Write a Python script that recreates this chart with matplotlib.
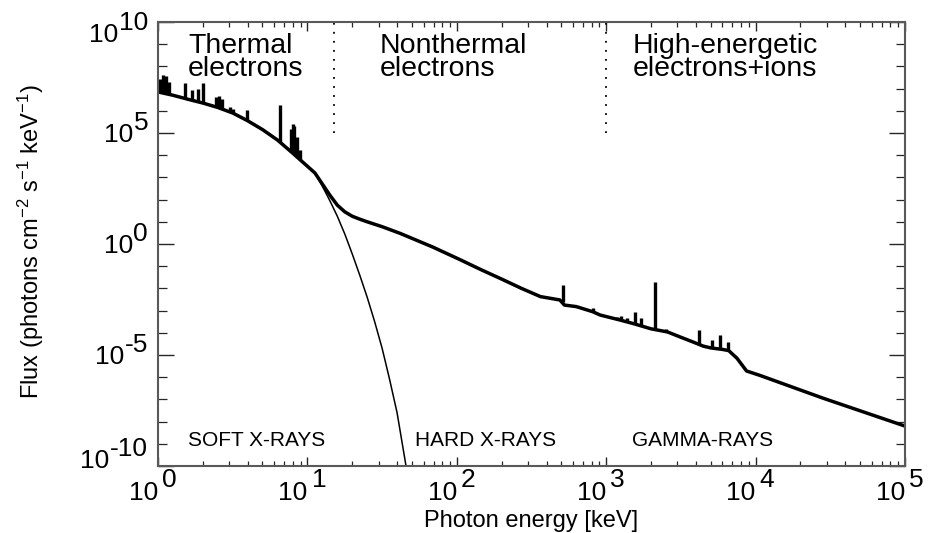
import numpy as np
import matplotlib
matplotlib.use('Agg')
import matplotlib.pyplot as plt
import matplotlib.transforms as mtrans
from matplotlib.ticker import LogLocator, FixedLocator, NullFormatter

plt.rcParams['font.family'] = ['Liberation Sans', 'DejaVu Sans']
plt.rcParams['mathtext.default'] = 'regular'

# total spectrum (log10 keV, log10 flux)
tot_le = [0.0, 0.1, 0.2, 0.3, 0.4, 0.5, 0.6, 0.7, 0.8, 0.9, 0.95, 1.0, 1.05,
          1.1, 1.15, 1.2, 1.25, 1.3, 1.35, 1.4, 1.5, 1.62, 1.84, 2.02, 2.16,
          2.3, 2.43, 2.56, 2.69, 2.72, 2.8, 2.91, 2.96, 3.09, 3.19, 3.3, 3.41,
          3.5, 3.58, 3.65, 3.7, 3.78, 3.82, 3.875, 3.94, 4.03, 4.45, 5.0]
tot_lf = [6.85, 6.7, 6.52, 6.35, 6.15, 5.9, 5.55, 5.15, 4.68, 4.1, 3.8, 3.5, 3.2,
          2.7, 2.2, 1.75, 1.45, 1.25, 1.12, 1.0, 0.78, 0.48, -0.14, -0.7, -1.15,
          -1.58, -1.99, -2.37, -2.52, -2.75, -2.82, -3.05, -3.2, -3.42, -3.6, -3.82, -3.96,
          -4.2, -4.41, -4.6, -4.68, -4.75, -4.8, -5.14, -5.72, -5.92, -6.94, -8.2]

# thermal component only (thin line)
th_le = [1.0, 1.05, 1.1, 1.15, 1.2, 1.25, 1.3, 1.35, 1.4, 1.45, 1.5, 1.55, 1.6, 1.65, 1.68]
th_lf = [3.5, 3.2, 2.6, 1.95, 1.25, 0.45, -0.45, -1.4, -2.4, -3.5, -4.7, -6.1, -7.6, -9.6, -10.8]

# emission lines: position, base, peak (log10)
line_le = [0.01, 0.03, 0.05, 0.07, 0.18, 0.23, 0.27, 0.30, 0.39, 0.41, 0.43, 0.48, 0.50,
           0.595, 0.815, 0.89, 0.90, 0.91, 0.93, 0.95,
           2.708, 2.91, 3.07, 3.10, 3.14, 3.19, 3.23, 3.33, 3.40, 3.62, 3.71, 3.76, 3.815]
line_base = [6.84, 6.8, 6.77, 6.74, 6.56, 6.47, 6.4, 6.35, 6.17, 6.12, 6.07, 5.95, 5.9,
             5.57, 4.6, 4.16, 4.1, 4.04, 3.92, 3.8,
             -2.6, -3.05, -3.38, -3.44, -3.52, -3.6, -3.67, -3.85, -3.95, -4.5, -4.66, -4.7, -4.76]
line_top = [7.45, 7.6, 7.55, 7.3, 7.25, 6.95, 7.0, 7.25, 6.6, 6.65, 6.55, 6.17, 6.07,
            6.03, 6.26, 5.2, 5.4, 5.3, 4.8, 4.25,
            -1.85, -2.88, -3.3, -3.25, -3.35, -3.06, -3.33, -1.71, -3.85, -3.87, -4.32, -4.1, -4.41]

# region boundaries (keV)
bounds = [15, 1000]
bound_lo = 1e5

xdecades = [0, 1, 2, 3, 4, 5]
ydecades = [-10, -5, 0, 5, 10]

fig = plt.figure(figsize=(9.3, 5.33), dpi=100)
ax = fig.add_axes([0.170, 0.1257, 0.803, 0.833])

ax.plot(10.0 ** np.array(tot_le), 10.0 ** np.array(tot_lf), color='black', lw=2.5,
        solid_joinstyle='round')
ax.plot(10.0 ** np.array(th_le), 10.0 ** np.array(th_lf), color='black', lw=1.1)
ax.vlines(10.0 ** np.array(line_le), 10.0 ** np.array(line_base), 10.0 ** np.array(line_top),
          color='black', lw=2.4)
ax.vlines(bounds, bound_lo, 1e10, color='black', lw=1.3, linestyles=(0, (1, 4)))

ax.set_xscale('log')
ax.set_yscale('log')
ax.set_xlim(1, 1e5)
ax.set_ylim(1e-10, 1e10)

ax.xaxis.set_major_locator(FixedLocator([10.0 ** k for k in xdecades]))
ax.xaxis.set_minor_locator(LogLocator(base=10, subs=np.arange(2, 10), numticks=30))
ax.yaxis.set_major_locator(FixedLocator([10.0 ** k for k in ydecades]))
ax.yaxis.set_minor_locator(LogLocator(base=10, subs=(1.0,), numticks=40))
ax.xaxis.set_minor_formatter(NullFormatter())
ax.yaxis.set_minor_formatter(NullFormatter())
ax.tick_params(which='both', direction='in', top=True, right=True, color='0.15',
               labelbottom=False, labelleft=False)
ax.tick_params(axis='x', which='major', length=6.5, width=1.0)
ax.tick_params(axis='x', which='minor', length=3.6, width=0.9)
ax.tick_params(axis='y', which='major', length=11.5, width=1.0)
ax.tick_params(axis='y', which='minor', length=6.5, width=0.9)
for s in ax.spines.values():
    s.set_color('0.35')
    s.set_linewidth(1.5)

# tick labels: "10" with a full-size raised exponent
fs = 19
xbase = ax.get_xaxis_transform()
for k in xdecades:
    ax.text(10.0 ** k, 0, '10', fontsize=fs, ha='right', va='baseline',
            transform=mtrans.offset_copy(xbase, fig=fig, x=0, y=-24.5, units='points'))
    ax.text(10.0 ** k, 0, str(k), fontsize=fs, ha='left', va='baseline',
            transform=mtrans.offset_copy(xbase, fig=fig, x=3, y=-15.1, units='points'))

ybase = ax.get_yaxis_transform()
yshift = {10: -8.0, -10: 5.0}
for k in ydecades:
    dy = yshift.get(k, 0.0)
    e = ax.text(0, 10.0 ** k, str(k), fontsize=fs, ha='right', va='baseline',
                transform=mtrans.offset_copy(ybase, fig=fig, x=-7.2, y=2.2 + dy, units='points'))
    ax.annotate('10', xy=(0, 10.0 ** k), xycoords=(e, ybase), xytext=(-0.5, -6.5 + dy),
                textcoords='offset points', fontsize=fs, ha='right', va='baseline')

# region labels
ax.text(0.040, 0.975, 'Thermal\nelectrons', transform=ax.transAxes, fontsize=20.5,
        va='top', ha='left', linespacing=0.82)
ax.text(0.297, 0.975, 'Nonthermal\nelectrons', transform=ax.transAxes, fontsize=20.5,
        va='top', ha='left', linespacing=0.82)
ax.text(0.636, 0.975, 'High-energetic\nelectrons+ions', transform=ax.transAxes, fontsize=20.5,
        va='top', ha='left', linespacing=0.82)

ax.text(0.040, 0.045, 'SOFT X-RAYS', transform=ax.transAxes, fontsize=15, va='baseline')
ax.text(0.344, 0.045, 'HARD X-RAYS', transform=ax.transAxes, fontsize=15, va='baseline')
ax.text(0.634, 0.045, 'GAMMA-RAYS', transform=ax.transAxes, fontsize=15, va='baseline')

fig.text(531 / 930, 6 / 533, 'Photon energy [keV]', fontsize=17, ha='center', va='baseline')
fig.text(31 / 930, 0.546, 'Flux (photons cm$^{-2}$ s$^{-1}$ keV$^{-1}$)', fontsize=17,
         rotation=90, ha='center', va='center')

fig.savefig('out.png', dpi=100)
